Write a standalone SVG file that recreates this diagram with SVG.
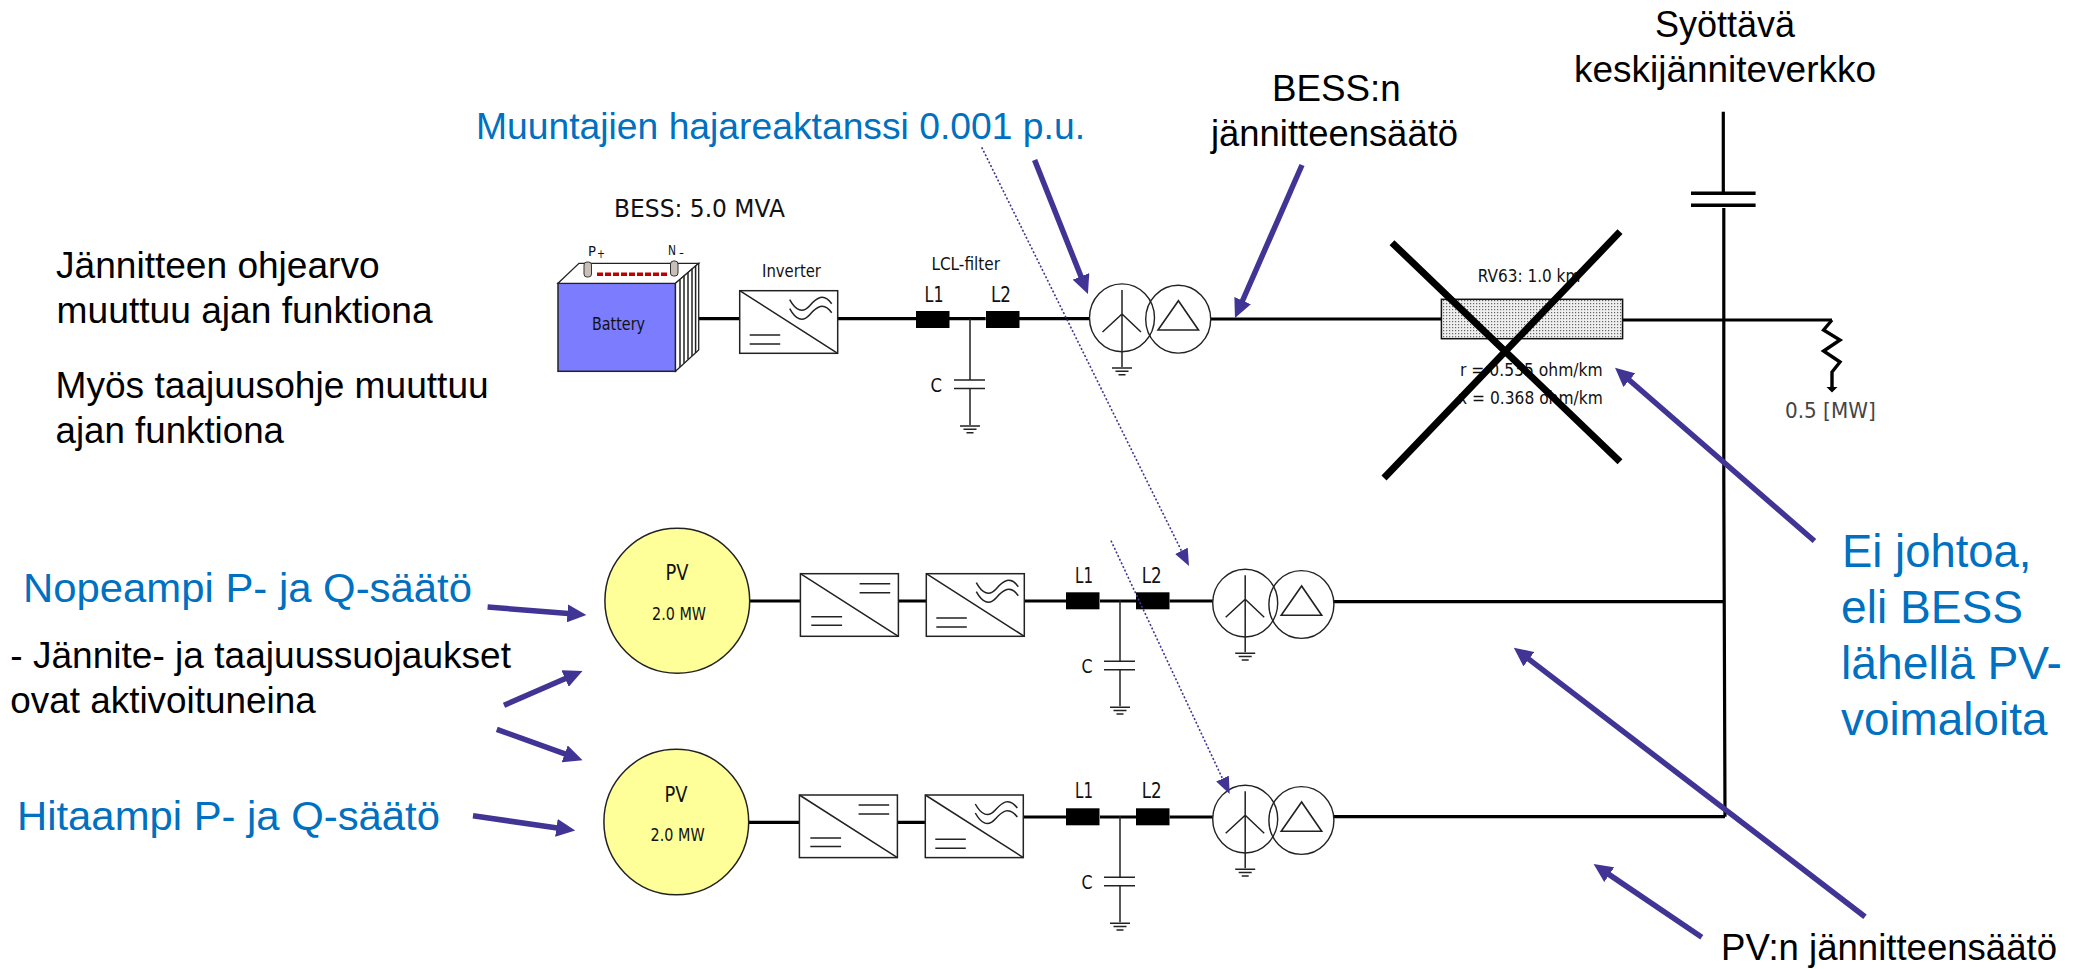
<svg xmlns="http://www.w3.org/2000/svg" xmlns:xlink="http://www.w3.org/1999/xlink" width="2078" height="969" viewBox="0 0 2078 969">
<style>
.a{font-family:"Liberation Sans",Arial,sans-serif;fill:#000}
.b{fill:#0070C0}
.s{font-family:"DejaVu Sans","Noto Sans",sans-serif;fill:#111}
.main{stroke:#000;stroke-width:3.2;fill:none}
.thin{stroke:#222;stroke-width:1.5;fill:none}
.ind{fill:#000}
.arr{stroke:#403494;stroke-width:5.5;fill:none}
.dot{stroke:#403494;stroke-width:1.6;stroke-dasharray:2 2;fill:none}
.cross{stroke:#000;stroke-width:7;fill:none}
</style>
<defs>
<marker id="ah" markerUnits="userSpaceOnUse" markerWidth="20" markerHeight="18" refX="1" refY="9" orient="auto"><path d="M0 0L19 9L0 18Z" fill="#403494"/></marker>
<marker id="dh" markerUnits="userSpaceOnUse" markerWidth="18" markerHeight="14" refX="1" refY="7" orient="auto"><path d="M0 0L17 7L0 14Z" fill="#403494"/></marker>
<pattern id="hatch" width="3" height="3" patternUnits="userSpaceOnUse"><rect width="3" height="3" fill="#efefef"/><rect width="1.2" height="1.2" fill="#666"/></pattern>
<g id="gnd" class="thin"><path d="M-10 0H10M-6.5 3.3H6.5M-3.5 6.7H3.5"/></g>
<g id="inv">
<rect width="98" height="62.6" fill="#fff" stroke="#222" stroke-width="1.5"/>
<path class="thin" d="M0 0L98 62.6M10 44.3H40.5M10 53.3H40.5"/>
<path class="thin" d="M50 9C56 20 63 23 70 15S84 2 92 13M50 18C56 29 63 32 70 24S84 11 92 22"/>
</g>
<g id="rec">
<rect width="98" height="62.6" fill="#fff" stroke="#222" stroke-width="1.5"/>
<path class="thin" d="M0 0L98 62.6M10.9 43H41.7M10.9 51.6H41.7M59.2 10H89.8M59.2 19H89.8"/>
</g>
<g id="tr">
<ellipse cx="0" cy="3.8" rx="32.5" ry="33.9" fill="none" stroke="#222" stroke-width="1.4"/>
<ellipse cx="56.2" cy="5.2" rx="32.5" ry="33.9" fill="none" stroke="#222" stroke-width="1.4"/>
<path class="thin" d="M0 -24V53M-19.5 18L0 0L19 18"/>
<path d="M56.4 -13.3L36 16H76.5Z" fill="none" stroke="#222" stroke-width="1.6"/>
<use xlink:href="#gnd" y="54"/>
</g>
<g id="filter">
<rect class="ind" x="0" y="0" width="33.5" height="17"/>
<rect class="ind" x="70" y="0" width="33.5" height="17"/>
<path class="thin" d="M54 8V69M54 77.5V114M38 69H69M38 77.5H69"/>
<use xlink:href="#gnd" x="54" y="115"/>
</g>
</defs>
<rect width="2078" height="969" fill="#fff"/>

<g id="connectors">
<path class="main" d="M698.7 318.7H740M837.4 318.7H916M949 318.7H985.7M1019 318.7H1089.5M1210.7 319H1441.4M1622.6 320H1832"/>
<path class="main" d="M749.7 601H800.4M898.4 601H926.3M1024.3 601H1066M1100 601H1136.2M1169.6 601H1212.8M1334 601.7H1725"/>
<path class="main" d="M748.7 822.3H799.4M897.4 822.3H925.3M1023.3 817H1066M1100 817H1136.2M1169.6 817H1212.8M1334 816.7H1725"/>
<path class="main" d="M1723.3 111.7V192M1723.8 208V480L1725 816.7"/>
<path stroke="#000" stroke-width="3.6" fill="none" d="M1691 193.3H1755.6M1691 205.3H1755.6"/>
</g>

<g id="battery">
<rect x="558" y="283.3" width="117.5" height="88" fill="#7C7CFF" stroke="#222" stroke-width="1.5"/>
<path d="M558 283.3L579 263.3H698.7L675.5 283.3Z" fill="#fff" stroke="#222" stroke-width="1.3"/>
<path d="M675.5 283.3L698.7 263.3V350L675.5 371.3Z" fill="#fff" stroke="#222" stroke-width="1.3"/>
<path class="thin" stroke-width="1.2" d="M680 279.5V367M684 275.8V363M688 272V359.6M692 268.6V356M695.6 265.6V353"/>
<rect x="584" y="262" width="7.5" height="15" rx="3" fill="#c8c0b8" stroke="#333"/>
<rect x="670.5" y="261" width="7.5" height="15" rx="3" fill="#c8c0b8" stroke="#333"/>
<path d="M597 274.3H667" stroke="#c00000" stroke-width="3.4" stroke-dasharray="6 2" fill="none"/>
<text class="s" x="588" y="256" font-size="13.5" textLength="8" lengthAdjust="spacingAndGlyphs">P</text>
<text class="s" x="597" y="258" font-size="13" textLength="8" lengthAdjust="spacingAndGlyphs">+</text>
<text class="s" x="668" y="255" font-size="13.5" textLength="8" lengthAdjust="spacingAndGlyphs">N</text>
<text class="s" x="679" y="257" font-size="13" textLength="5" lengthAdjust="spacingAndGlyphs">-</text>
<text class="s" x="592" y="330" font-size="18.5" textLength="53" lengthAdjust="spacingAndGlyphs">Battery</text>
<text class="s" x="614" y="216.7" font-size="25.5" textLength="171" lengthAdjust="spacingAndGlyphs">BESS: 5.0 MVA</text>
</g>

<g id="bess-inverter">
<use xlink:href="#inv" x="739.7" y="290.7"/>
<text class="s" x="762" y="276.7" font-size="17.5" textLength="59" lengthAdjust="spacingAndGlyphs">Inverter</text>
</g>
<g id="bess-filter">
<use xlink:href="#filter" x="916" y="311"/>
<text class="s" x="931.4" y="270" font-size="17.5" textLength="68.6" lengthAdjust="spacingAndGlyphs">LCL-filter</text>
<text class="s" x="924.6" y="302" font-size="21" textLength="19" lengthAdjust="spacingAndGlyphs">L1</text>
<text class="s" x="991" y="302" font-size="21" textLength="20" lengthAdjust="spacingAndGlyphs">L2</text>
<text class="s" x="930.5" y="391.7" font-size="19" textLength="11.5" lengthAdjust="spacingAndGlyphs">C</text>
</g>
<g id="bess-transformer"><use xlink:href="#tr" x="1122" y="314"/></g>

<g id="line-rv63">
<rect x="1441.4" y="299.3" width="181.2" height="39.4" fill="url(#hatch)" stroke="#111" stroke-width="1.5"/>
<text class="s" x="1477.7" y="282" font-size="18" textLength="102.7" lengthAdjust="spacingAndGlyphs">RV63: 1.0 km</text>
<text class="s" x="1460" y="375.7" font-size="17.5" textLength="142.7" lengthAdjust="spacingAndGlyphs">r = 0.535 ohm/km</text>
<text class="s" x="1458" y="404.3" font-size="17.5" textLength="144.7" lengthAdjust="spacingAndGlyphs">x = 0.368 ohm/km</text>
</g>

<g id="load">
<path d="M1832 320L1823.6 330L1840 340L1823.6 351L1840 362L1832 372V388" fill="none" stroke="#000" stroke-width="3.4"/>
<path d="M1826.5 387H1837.5L1832 392.5Z" fill="#000"/>
<text class="s" x="1785" y="418.3" font-size="20.5" textLength="90.7" lengthAdjust="spacingAndGlyphs" style="fill:#444">0.5 [MW]</text>
</g>

<g id="pv1">
<ellipse cx="677.3" cy="600.8" rx="72.4" ry="72.5" fill="#FFFF99" stroke="#222" stroke-width="1.5"/>
<text class="s" x="665.6" y="580" font-size="21.5" textLength="23" lengthAdjust="spacingAndGlyphs">PV</text>
<text class="s" x="652" y="620.3" font-size="17" textLength="54" lengthAdjust="spacingAndGlyphs">2.0 MW</text>
</g>
<g id="pv1-converters">
<use xlink:href="#rec" x="800.4" y="573.7"/>
<use xlink:href="#inv" x="926.3" y="573.7"/>
</g>
<g id="pv1-filter">
<use xlink:href="#filter" x="1066" y="592.3"/>
<text class="s" x="1075" y="583" font-size="21" textLength="18" lengthAdjust="spacingAndGlyphs">L1</text>
<text class="s" x="1141.7" y="583" font-size="21" textLength="20" lengthAdjust="spacingAndGlyphs">L2</text>
<text class="s" x="1081.5" y="673.3" font-size="19" textLength="11" lengthAdjust="spacingAndGlyphs">C</text>
</g>
<g id="pv1-transformer"><use xlink:href="#tr" x="1245.2" y="599.3"/></g>

<g id="pv2">
<ellipse cx="676.3" cy="822" rx="72.4" ry="72.7" fill="#FFFF99" stroke="#222" stroke-width="1.5"/>
<text class="s" x="664.6" y="801.7" font-size="21.5" textLength="23" lengthAdjust="spacingAndGlyphs">PV</text>
<text class="s" x="650.6" y="841" font-size="17" textLength="54" lengthAdjust="spacingAndGlyphs">2.0 MW</text>
</g>
<g id="pv2-converters">
<use xlink:href="#rec" x="799.4" y="795"/>
<use xlink:href="#inv" x="925.3" y="795"/>
</g>
<g id="pv2-filter">
<use xlink:href="#filter" x="1066" y="808.3"/>
<text class="s" x="1075" y="798.3" font-size="21" textLength="18" lengthAdjust="spacingAndGlyphs">L1</text>
<text class="s" x="1141.7" y="798.3" font-size="21" textLength="20" lengthAdjust="spacingAndGlyphs">L2</text>
<text class="s" x="1081.5" y="888.7" font-size="19" textLength="11" lengthAdjust="spacingAndGlyphs">C</text>
</g>
<g id="pv2-transformer"><use xlink:href="#tr" x="1245.2" y="815.3"/></g>

<g id="cross">
<path class="cross" d="M1392 242.7L1620 461.7M1620 231.7L1384 478"/>
</g>

<g id="arrows">
<path class="arr" marker-end="url(#ah)" d="M487.6 607L568.4 613.5"/>
<path class="arr" marker-end="url(#ah)" d="M504 705.3L566 678.2"/>
<path class="arr" marker-end="url(#ah)" d="M496.8 729.4L565.6 754.2"/>
<path class="arr" marker-end="url(#ah)" d="M473 815.8L557.4 828"/>
<path class="arr" marker-end="url(#ah)" d="M1814.4 541L1628.6 379.5"/>
<path class="arr" marker-end="url(#ah)" d="M1865 916.7L1528.1 658.6"/>
<path class="arr" marker-end="url(#ah)" d="M1701.8 937.3L1608.5 874.1"/>
<path class="arr" marker-end="url(#ah)" d="M1034.6 160L1081.3 277.3"/>
<path class="arr" marker-end="url(#ah)" d="M1302 165L1242.2 301.5"/>
<path class="dot" marker-end="url(#dh)" d="M981.7 147.3L1181.9 551.7"/>
<path class="dot" marker-end="url(#dh)" d="M1111 540.7L1222.9 779.5"/>
</g>

<g id="labels">
<text class="a" x="1655" y="36.7" font-size="37" textLength="140" lengthAdjust="spacingAndGlyphs">Syöttävä</text>
<text class="a" x="1574" y="82" font-size="37" textLength="302" lengthAdjust="spacingAndGlyphs">keskijänniteverkko</text>
<text class="a" x="1272" y="101" font-size="37" textLength="128.7" lengthAdjust="spacingAndGlyphs">BESS:n</text>
<text class="a" x="1211" y="146" font-size="37" textLength="247" lengthAdjust="spacingAndGlyphs">jännitteensäätö</text>
<text class="a b" x="476" y="139.3" font-size="37" textLength="609" lengthAdjust="spacingAndGlyphs">Muuntajien hajareaktanssi 0.001 p.u.</text>
<text class="a" x="56" y="278" font-size="36" textLength="323.6" lengthAdjust="spacingAndGlyphs">Jännitteen ohjearvo</text>
<text class="a" x="56.6" y="323" font-size="36" textLength="376" lengthAdjust="spacingAndGlyphs">muuttuu ajan funktiona</text>
<text class="a" x="55.5" y="398" font-size="36" textLength="433.2" lengthAdjust="spacingAndGlyphs">Myös taajuusohje muuttuu</text>
<text class="a" x="55.5" y="443" font-size="36" textLength="228.5" lengthAdjust="spacingAndGlyphs">ajan funktiona</text>
<text class="a b" x="23" y="601.6" font-size="40" textLength="449" lengthAdjust="spacingAndGlyphs">Nopeampi P- ja Q-säätö</text>
<text class="a" x="10.3" y="668" font-size="36" textLength="500.7" lengthAdjust="spacingAndGlyphs">- Jännite- ja taajuussuojaukset</text>
<text class="a" x="10.3" y="713" font-size="36" textLength="305.4" lengthAdjust="spacingAndGlyphs">ovat aktivoituneina</text>
<text class="a b" x="17" y="830" font-size="40" textLength="423" lengthAdjust="spacingAndGlyphs">Hitaampi P- ja Q-säätö</text>
<text class="a" x="1721" y="960" font-size="37" textLength="336" lengthAdjust="spacingAndGlyphs">PV:n jännitteensäätö</text>
<text class="a b" x="1842" y="567.3" font-size="47" textLength="189.5" lengthAdjust="spacingAndGlyphs">Ei johtoa,</text>
<text class="a b" x="1841" y="623.3" font-size="47" textLength="182" lengthAdjust="spacingAndGlyphs">eli BESS</text>
<text class="a b" x="1841" y="679.3" font-size="47" textLength="221" lengthAdjust="spacingAndGlyphs">lähellä PV-</text>
<text class="a b" x="1841" y="735.3" font-size="47" textLength="206.4" lengthAdjust="spacingAndGlyphs">voimaloita</text>
</g>
</svg>
